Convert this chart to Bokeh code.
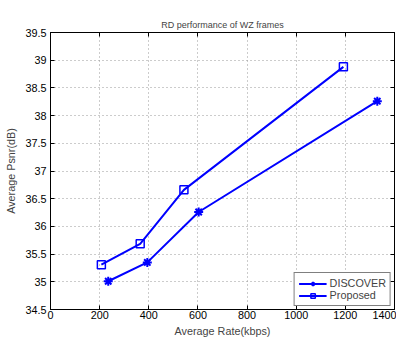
from bokeh.plotting import figure
from bokeh.models import LinearAxis, Range1d, FixedTicker
from bokeh.embed import file_html
from bokeh.resources import INLINE

# Data
rate_discover = [235, 394, 603, 1330]
psnr_discover = [35.01, 35.35, 36.26, 38.26]
rate_proposed = [207, 365, 543, 1192]
psnr_proposed = [35.31, 35.685, 36.66, 38.88]

x_ticks = [0, 200, 400, 600, 800, 1000, 1200, 1400]
y_ticks = [34.5, 35, 35.5, 36, 36.5, 37, 37.5, 38, 38.5, 39, 39.5]
y_tick_labels = ["34.5", "35", "35.5", "36", "36.5", "37", "37.5", "38", "38.5", "39", "39.5"]

FONT = "Liberation Sans"
BLUE = "#0000ff"

p = figure(width=396, height=339, output_backend="svg", toolbar_location=None,
           x_range=Range1d(0, 1400), y_range=Range1d(34.5, 39.5),
           title="RD performance of WZ frames",
           min_border_left=50, min_border_right=2, min_border_top=32, min_border_bottom=0)

p.title.align = "center"
p.title.text_font = FONT
p.title.text_font_size = "9px"
p.title.text_font_style = "normal"
p.title.offset = 0
p.title.standoff = 6

p.outline_line_color = "black"
p.outline_line_width = 1
p.background_fill_color = "white"
p.border_fill_color = "white"

for ax in (p.xaxis, p.yaxis):
    ax.major_label_text_font = FONT
    ax.major_label_text_font_size = "10.8px"
    ax.axis_label_text_font = FONT
    ax.axis_label_text_font_size = "10.8px"
    ax.axis_label_text_font_style = "normal"
    ax.major_label_text_line_height = 1.0
    ax.axis_label_text_line_height = 1.0
    ax.major_tick_in = 4
    ax.major_tick_out = 0
    ax.minor_tick_in = 0
    ax.minor_tick_out = 0
    ax.axis_line_color = "black"
    ax.major_label_text_color = "black"

p.xaxis.ticker = FixedTicker(ticks=x_ticks)
p.yaxis.ticker = FixedTicker(ticks=y_ticks)
p.yaxis.major_label_overrides = {t: l for t, l in zip(y_ticks, y_tick_labels)}
p.xaxis.axis_label = "Average Rate(kbps)"
p.yaxis.axis_label = "Average Psnr(dB)"
p.xaxis.major_label_standoff = 1
p.xaxis.axis_label_standoff = 3
p.yaxis.major_label_standoff = 4
p.yaxis.axis_label_standoff = 5

# MATLAB-style box: inward ticks on the top and right edges too
for loc, ticks in (("right", y_ticks), ("above", x_ticks)):
    ax = LinearAxis(ticker=FixedTicker(ticks=ticks))
    ax.major_label_text_font_size = "1px"
    ax.major_label_text_color = None
    ax.major_label_standoff = 0
    ax.major_tick_in = 4
    ax.major_tick_out = 0
    ax.minor_tick_in = 0
    ax.minor_tick_out = 0
    ax.axis_line_color = "black"
    p.add_layout(ax, loc)

p.xgrid.ticker = FixedTicker(ticks=x_ticks)
p.ygrid.ticker = FixedTicker(ticks=y_ticks)
for g in (p.xgrid, p.ygrid):
    g.grid_line_color = "#999999"
    g.grid_line_dash = "1 3"
    g.grid_line_width = 1
    g.grid_line_alpha = 1

p.line(rate_discover, psnr_discover, color=BLUE, line_width=2, legend_label="DISCOVER")
p.scatter(rate_discover, psnr_discover, marker="asterisk", size=9, line_color=BLUE,
          line_width=2, legend_label="DISCOVER")
p.line(rate_proposed, psnr_proposed, color=BLUE, line_width=2, legend_label="Proposed")
p.scatter(rate_proposed, psnr_proposed, marker="square", size=8, line_color=BLUE,
          fill_color=None, line_width=1.5, legend_label="Proposed")

lg = p.legend[0]
lg.location = "bottom_right"
lg.margin = 3
lg.padding = 4
lg.spacing = 0
lg.label_text_font = FONT
lg.label_text_font_size = "10.8px"
lg.label_height = 11
lg.glyph_height = 11
lg.glyph_width = 28
lg.label_standoff = 3
lg.border_line_color = "black"
lg.border_line_width = 1
lg.background_fill_alpha = 1

open("out.html", "w").write(file_html(p, INLINE))
